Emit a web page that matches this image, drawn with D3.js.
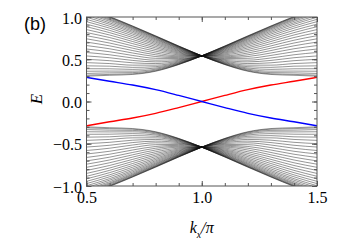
<!DOCTYPE html>
<html>
<head>
<meta charset="utf-8">
<script src="https://cdn.jsdelivr.net/npm/d3@7"></script>
<style>
body { margin: 0; background: #fff; }
</style>
</head>
<body>
<div id="chart"></div>
<script>
// k_x/pi samples for the bulk sub-bands, left half (right half is the mirror image)
var bandK = [0.5, 0.6, 0.7, 0.8, 0.9, 1.0];

// upper bulk band, one array per k column, one entry per sub-band (top to bottom)
var bandE05 = [1.105, 1.101, 1.094, 1.084, 1.072, 1.057, 1.040, 1.020, 0.997, 0.972,
               0.945, 0.915, 0.885, 0.851, 0.816, 0.779, 0.742, 0.703, 0.662, 0.621,
               0.580, 0.539, 0.499, 0.460, 0.422, 0.388, 0.358, 0.332, 0.312, 0.300];
var bandE06 = [1.005, 1.002, 0.996, 0.988, 0.976, 0.964, 0.949, 0.931, 0.913, 0.891,
               0.868, 0.842, 0.815, 0.787, 0.757, 0.725, 0.692, 0.659, 0.624, 0.589,
               0.553, 0.518, 0.483, 0.449, 0.418, 0.387, 0.360, 0.339, 0.321, 0.310];
var bandE07 = [0.894, 0.891, 0.886, 0.879, 0.870, 0.860, 0.847, 0.832, 0.816, 0.798,
               0.778, 0.757, 0.734, 0.710, 0.685, 0.658, 0.631, 0.603, 0.574, 0.545,
               0.515, 0.486, 0.458, 0.430, 0.404, 0.380, 0.359, 0.342, 0.328, 0.320];
var bandE08 = [0.777, 0.774, 0.770, 0.765, 0.758, 0.749, 0.739, 0.728, 0.715, 0.701,
               0.686, 0.670, 0.652, 0.634, 0.615, 0.595, 0.574, 0.553, 0.532, 0.511,
               0.489, 0.469, 0.449, 0.430, 0.412, 0.396, 0.383, 0.372, 0.363, 0.358];
var bandE09 = [0.657, 0.655, 0.653, 0.649, 0.645, 0.640, 0.634, 0.628, 0.620, 0.612,
               0.603, 0.594, 0.584, 0.574, 0.563, 0.552, 0.541, 0.530, 0.519, 0.508,
               0.497, 0.487, 0.477, 0.468, 0.460, 0.453, 0.447, 0.442, 0.439, 0.437];
var bandE10 = [0.540, 0.540, 0.540, 0.540, 0.540, 0.540, 0.540, 0.540, 0.540, 0.540,
               0.540, 0.540, 0.540, 0.540, 0.540, 0.540, 0.540, 0.540, 0.540, 0.540,
               0.540, 0.540, 0.540, 0.540, 0.540, 0.540, 0.540, 0.540, 0.540, 0.540];

// edge states
var edgeK = [0.5, 0.6, 0.7, 0.8, 0.9, 1.0, 1.1, 1.2, 1.3, 1.4, 1.5];
var edgeBlue = [0.286, 0.240, 0.195, 0.140, 0.072, 0.0, -0.072, -0.140, -0.195, -0.240, -0.288];
var edgeRed = [-0.288, -0.240, -0.195, -0.140, -0.072, 0.0, 0.072, 0.140, 0.195, 0.240, 0.286];

var xTicks = [0.5, 1.0, 1.5];
var yTicks = [-1.0, -0.5, 0.0, 0.5, 1.0];

var svgWidth = 354;
var svgHeight = 250;
var margin = { top: 17, right: 37, bottom: 64, left: 86.5 };
var width = svgWidth - margin.left - margin.right;
var height = svgHeight - margin.top - margin.bottom;

var svg = d3.select("#chart")
  .append("svg")
  .attr("width", svgWidth)
  .attr("height", svgHeight);

var chartGroup = svg.append("g")
  .attr("transform", `translate(${margin.left}, ${margin.top})`);

var x = d3.scaleLinear().domain([0.5, 1.5]).range([0, width]);
var y = d3.scaleLinear().domain([-1, 1]).range([height, 0]);
// mirror scales for the other three quadrants of the bulk bands
var xMirror = d3.scaleLinear().domain([0.5, 1.5]).range([width, 0]);
var yMirror = d3.scaleLinear().domain([-1, 1]).range([0, height]);

chartGroup.append("clipPath")
  .attr("id", "plot-clip")
  .append("rect")
  .attr("width", width)
  .attr("height", height);

var plot = chartGroup.append("g").attr("clip-path", "url(#plot-clip)");

var columns = [bandE05, bandE06, bandE07, bandE08, bandE09, bandE10];
var subBands = bandE05.map(function(d, i) {
  return bandK.map(function(k, j) { return [k, columns[j][i]]; });
});

[[x, y], [xMirror, y], [x, yMirror], [xMirror, yMirror]].forEach(function(s) {
  var line = d3.line()
    .x(d => s[0](d[0]))
    .y(d => s[1](d[1]))
    .curve(d3.curveMonotoneX);
  plot.append("g")
    .selectAll("path")
    .data(subBands)
    .enter()
    .append("path")
    .attr("d", line)
    .attr("fill", "none")
    .attr("stroke", "#111")
    .attr("stroke-width", 0.45);
});

var edgeLine = d3.line()
  .x(d => x(d[0]))
  .y(d => y(d[1]))
  .curve(d3.curveMonotoneX);

plot.append("path")
  .datum(edgeK.map((k, i) => [k, edgeRed[i]]))
  .attr("d", edgeLine)
  .attr("fill", "none")
  .attr("stroke", "#ff0000")
  .attr("stroke-width", 1.4);

plot.append("path")
  .datum(edgeK.map((k, i) => [k, edgeBlue[i]]))
  .attr("d", edgeLine)
  .attr("fill", "none")
  .attr("stroke", "#0000ff")
  .attr("stroke-width", 1.4);

// frame
chartGroup.append("rect")
  .attr("width", width)
  .attr("height", height)
  .attr("fill", "none")
  .attr("stroke", "#555")
  .attr("stroke-width", 1);

function styleAxis(g) {
  g.select(".domain").remove();
  g.selectAll(".tick line").attr("stroke", "#555");
  g.selectAll("text")
    .attr("fill", "#000")
    .style("font-family", "'Liberation Serif', 'Times New Roman', serif")
    .style("font-size", "16px");
}

// bottom
chartGroup.append("g")
  .attr("transform", `translate(0, ${height})`)
  .call(d3.axisBottom(x).tickValues(x.ticks(10)).tickSize(-3).tickFormat(""))
  .call(styleAxis);
chartGroup.append("g")
  .attr("transform", `translate(0, ${height})`)
  .call(d3.axisBottom(x).tickValues(xTicks).tickSize(-5).tickPadding(6).tickFormat(d3.format(".1f")))
  .call(styleAxis);
// top
chartGroup.append("g")
  .call(d3.axisTop(x).tickValues(x.ticks(10)).tickSize(-3).tickFormat(""))
  .call(styleAxis);
chartGroup.append("g")
  .call(d3.axisTop(x).tickValues(xTicks).tickSize(-5).tickFormat(""))
  .call(styleAxis);
// left
chartGroup.append("g")
  .call(d3.axisLeft(y).tickValues(y.ticks(20)).tickSize(-3).tickFormat(""))
  .call(styleAxis);
chartGroup.append("g")
  .call(d3.axisLeft(y).tickValues(yTicks).tickSize(-5).tickPadding(4.5).tickFormat(d3.format(".1f")))
  .call(styleAxis)
  .selectAll("text").attr("dy", "0.38em");
// right
chartGroup.append("g")
  .attr("transform", `translate(${width}, 0)`)
  .call(d3.axisRight(y).tickValues(y.ticks(20)).tickSize(-3).tickFormat(""))
  .call(styleAxis);
chartGroup.append("g")
  .attr("transform", `translate(${width}, 0)`)
  .call(d3.axisRight(y).tickValues(yTicks).tickSize(-5).tickFormat(""))
  .call(styleAxis);

// axis titles
svg.append("text")
  .attr("transform", "translate(42, 99) rotate(-90)")
  .attr("text-anchor", "middle")
  .style("font-family", "'Liberation Serif', 'Times New Roman', serif")
  .style("font-style", "italic")
  .style("font-size", "17px")
  .text("E");

var xTitle = svg.append("text")
  .attr("x", margin.left + x(1.0))
  .attr("y", 233)
  .attr("text-anchor", "middle")
  .style("font-family", "'Liberation Serif', 'Times New Roman', serif")
  .style("font-style", "italic")
  .style("font-size", "16px");
xTitle.append("tspan").text("k");
xTitle.append("tspan").attr("dx", 0).attr("dy", 5).style("font-size", "10px").text("x");
xTitle.append("tspan").attr("dy", -5).text("/π");

svg.append("text")
  .attr("x", 24)
  .attr("y", 30)
  .style("font-family", "'Liberation Sans', Arial, sans-serif")
  .style("font-size", "18px")
  .text("(b)");
</script>
</body>
</html>
